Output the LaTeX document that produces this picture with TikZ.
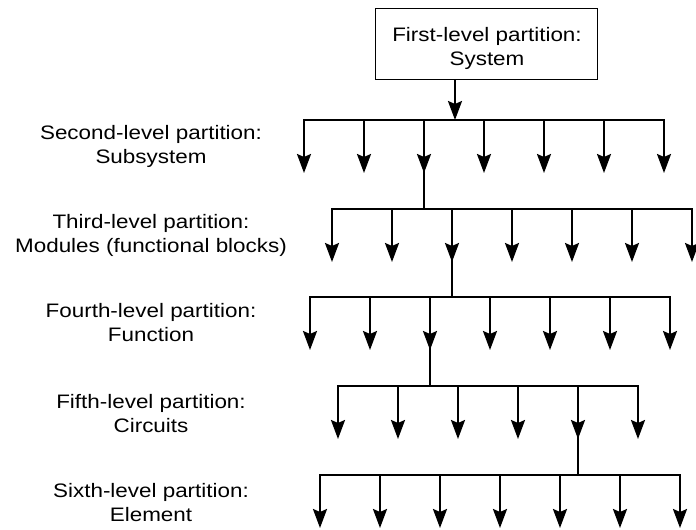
\documentclass[tikz,border=0pt]{standalone}
\usepackage{fontspec}
\newfontfamily\lblfont[FakeStretch=1.15]{Liberation Sans}
\usetikzlibrary{arrows.meta}

\tikzset{
  wire/.style={line width=2pt},
  barline/.style={wire, line cap=rect},
  arr/.style={wire, -{Stealth[length=19pt,width=14pt,inset=3pt]}},
  lbl/.style={align=center, inner sep=0pt, font=\lblfont\fontsize{19.5}{23.5}\selectfont},
  sysbox/.style={draw, line width=0.9pt, minimum width=222pt, minimum height=71pt, inner sep=0pt}
}

\begin{document}
\begin{tikzpicture}[x=1pt,y=-1pt]
\useasboundingbox (0,0) rectangle (696,530);

% top-level box (base anchor = baseline of the last line)
\node[sysbox] (sys) at (486.5,43.5) {};
\node[lbl, anchor=base] (systxt) at (487,65) {First-level partition:\\System};

% level captions
\node[lbl, anchor=base] (lab2) at (151,163) {Second-level partition:\\Subsystem};
\node[lbl, anchor=base] (lab3) at (151,252) {Third-level partition:\\Modules (functional blocks)};
\node[lbl, anchor=base] (lab4) at (151,341) {Fourth-level partition:\\Function};
\node[lbl, anchor=base] (lab5) at (151,432) {Fifth-level partition:\\Circuits};
\node[lbl, anchor=base] (lab6) at (151,521) {Sixth-level partition:\\Element};

% distribution bars with their arrows
\foreach \lv/\y/\xs/\n in {2/120/304/6, 3/209/332/6, 4/297/310/6, 5/386/338/5, 6/475/320/6} {
  \coordinate (bar\lv-s) at (\xs,\y);
  \coordinate (bar\lv-e) at (\xs+60*\n,\y);
  \draw[barline] (bar\lv-s) -- (bar\lv-e);
  \foreach \i in {0,...,\n} {
    \coordinate (top\lv-\i) at (\xs+60*\i,\y);
    \coordinate (tip\lv-\i) at (\xs+60*\i,\y+53);
    \draw[arr] (top\lv-\i) -- (tip\lv-\i);
  }
}

% junctions where each branch meets the next bar
\coordinate (j2) at (455,120);
\coordinate (j3) at (424,209);
\coordinate (j4) at (452,297);
\coordinate (j5) at (430,386);
\coordinate (j6) at (578,475);

\draw[arr] (sys.south -| j2) -- (j2);
\draw[wire] (top2-2) -- (j3);
\draw[wire] (top3-2) -- (j4);
\draw[wire] (top4-2) -- (j5);
\draw[wire] (top5-4) -- (j6);
\end{tikzpicture}
\end{document}
